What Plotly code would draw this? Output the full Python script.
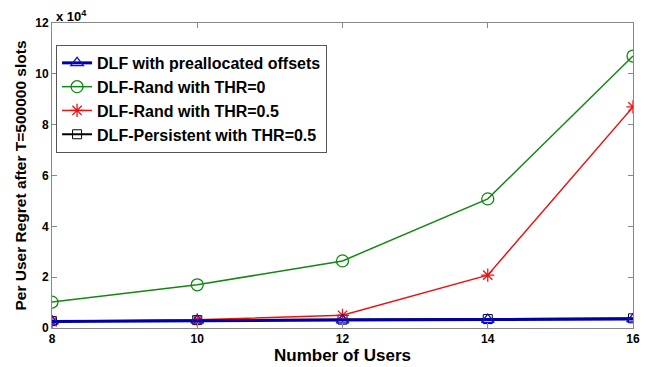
import plotly.graph_objects as go

users = [8, 10, 12, 14, 16]
dlf_prealloc = [2600, 3000, 3100, 3300, 3500]
rand_thr0 = [10200, 17000, 26400, 50800, 107000]
rand_thr05 = [2500, 3200, 5000, 20800, 87000]
persistent_thr05 = [2700, 3100, 3300, 3500, 3800]

y_tickvals = [0, 20000, 40000, 60000, 80000, 100000, 120000]
y_ticktext = ["0", "2", "4", "6", "8", "10", "12"]
x_tickvals = [8, 10, 12, 14, 16]

fig = go.Figure()
fig.add_trace(go.Scatter(x=users, y=persistent_thr05, name="DLF-Persistent with THR=0.5",
                         mode="lines+markers", legendrank=4,
                         line=dict(color="black", width=2),
                         marker=dict(symbol="square-open", size=9, color="black", line=dict(width=1))))
fig.add_trace(go.Scatter(x=users, y=rand_thr0, name="DLF-Rand with THR=0",
                         mode="lines+markers", legendrank=2,
                         line=dict(color="#118811", width=1.5),
                         marker=dict(symbol="circle-open", size=12, color="#118811", line=dict(width=1.3))))
fig.add_trace(go.Scatter(x=users, y=rand_thr05, name="DLF-Rand with THR=0.5",
                         mode="lines+markers", legendrank=3,
                         line=dict(color="#ee1111", width=1.5),
                         marker=dict(symbol="asterisk-open", size=11, color="#ee1111", line=dict(width=1.3))))
fig.add_trace(go.Scatter(x=users, y=dlf_prealloc, name="DLF with preallocated offsets",
                         mode="lines+markers", legendrank=1,
                         line=dict(color="#0000aa", width=3),
                         marker=dict(symbol="triangle-up-open", size=11, color="#1010cc", line=dict(width=1.3))))

fig.update_layout(
    width=654, height=359,
    margin=dict(l=44, r=29, t=15, b=39),
    paper_bgcolor="white", plot_bgcolor="white",
    font=dict(family="Liberation Sans, Arial", color="black"),
    showlegend=True,
    legend=dict(x=0.007, y=0.928, xanchor="left", yanchor="top",
                bgcolor="white", bordercolor="#555555", borderwidth=1,
                font=dict(size=16, weight="bold"), itemwidth=30,
                tracegroupgap=0, itemsizing="trace"),
    xaxis=dict(range=[8, 16], tickvals=x_tickvals, ticks="inside", ticklen=5,
               tickcolor="#888888", showline=True, linecolor="#888888", linewidth=1,
               mirror="ticks", showgrid=False, zeroline=False, automargin=False,
               tickfont=dict(size=12, weight="bold"),
               title=dict(text="Number of Users", font=dict(size=17, weight="bold"), standoff=1)),
    yaxis=dict(range=[0, 120000], tickvals=y_tickvals, ticktext=y_ticktext, ticks="inside", ticklen=5,
               tickcolor="#888888", showline=True, linecolor="#888888", linewidth=1,
               mirror="ticks", showgrid=False, zeroline=False, automargin=False,
               tickfont=dict(size=12, weight="bold"),
               title=dict(text="Per User Regret after T=500000 slots", font=dict(size=15.5, weight="bold"), standoff=4)),
)
fig.add_annotation(xref="paper", yref="paper", x=0.0, y=1.0, xanchor="left", yanchor="bottom",
                   text="x 10<sup>4</sup>", showarrow=False, yshift=-3, xshift=2,
                   font=dict(size=13, weight="bold"))

fig.write_html("out.html")
